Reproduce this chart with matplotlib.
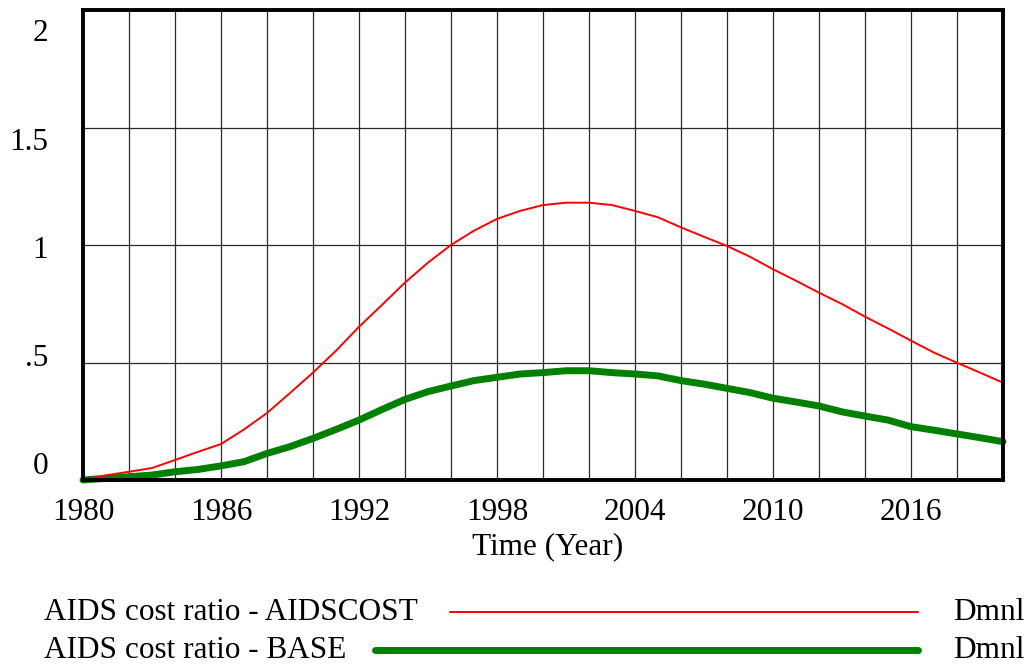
import matplotlib
matplotlib.use("Agg")
import matplotlib.pyplot as plt
from matplotlib.lines import Line2D
from matplotlib.transforms import ScaledTranslation

plt.rcParams['font.family'] = ['Liberation Serif', 'DejaVu Serif']

years = list(range(1980, 2021))
aidscost = [0.0, 0.02, 0.035, 0.051, 0.085, 0.12, 0.153, 0.215, 0.285, 0.37,
            0.457, 0.55, 0.652, 0.745, 0.84, 0.925, 1.0, 1.061, 1.111, 1.145,
            1.17, 1.18, 1.18, 1.17, 1.145, 1.118, 1.075, 1.035, 0.996, 0.95,
            0.897, 0.848, 0.797, 0.749, 0.695, 0.645, 0.593, 0.542, 0.499, 0.457,
            0.414]
base = [0.0, 0.007, 0.014, 0.021, 0.035, 0.045, 0.06, 0.078, 0.113, 0.142,
        0.177, 0.215, 0.255, 0.30, 0.343, 0.376, 0.40, 0.423, 0.437, 0.451,
        0.457, 0.465, 0.465, 0.457, 0.451, 0.443, 0.423, 0.408, 0.39, 0.372,
        0.348, 0.332, 0.315, 0.29, 0.272, 0.255, 0.227, 0.212, 0.196, 0.18,
        0.163]
x_label_years = [1980, 1986, 1992, 1998, 2004, 2010, 2016]
y_ticks = [0, 0.5, 1, 1.5, 2]
y_tick_labels = ['0', '.5', '1', '1.5', '2']
series_names = ['AIDS cost ratio - AIDSCOST', 'AIDS cost ratio - BASE']
units = 'Dmnl'
x_title = 'Time (Year)'

W, H = 1028, 668
fig = plt.figure(figsize=(W / 100, H / 100), dpi=100)
ax = fig.add_axes([83 / W, (H - 480) / H, 920 / W, 470 / H])

FS = 22.5
red = '#ff0000'
green = '#008000'

ax.plot(years, aidscost, color=red, lw=1.4, zorder=3, clip_on=False)
ax.plot(years, base, color=green, lw=5.0, zorder=2, clip_on=False,
        solid_capstyle='round')

ax.set_xlim(1980, 2020)
ax.set_ylim(0, 2)

# gridlines every 2 years; labels every 6 years
grid_years = list(range(1980, 2021, 2))
ax.set_xticks(grid_years)
ax.set_xticklabels([str(y) if y in x_label_years else '' for y in grid_years],
                   fontsize=FS)
ax.set_yticks(y_ticks)
ax.set_yticklabels(y_tick_labels, fontsize=FS)
ax.tick_params(length=0)
ax.tick_params(axis='x', pad=13)
ax.tick_params(axis='y', pad=25)
ax.grid(True, color='#2a2a2a', lw=0.9, zorder=1)

# vertical label offsets (Vensim-style squeezed labels)
offsets_px = {'2': -20, '1.5': -11, '1': -1.5, '.5': 7, '0': 17}
for lab in ax.get_yticklabels():
    dy = offsets_px.get(lab.get_text(), 0)
    lab.set_transform(lab.get_transform() + ScaledTranslation(0, dy / 100, fig.dpi_scale_trans))

for sp in ax.spines.values():
    sp.set_linewidth(2.8)
    sp.set_color('black')
    sp.set_zorder(5)

fig.text(548 / W, 1 - 547 / H, x_title, fontsize=FS, ha='center', va='center')

# legend rows
rows = [(612, 450, red, 1.4), (650, 375, green, 5.0)]
for name, (yc, x0, col, lw) in zip(series_names, rows):
    yf = 1 - yc / H
    fig.text(44 / W, yf, name, fontsize=FS, ha='left', va='center')
    fig.add_artist(Line2D([x0 / W, 918 / W], [yf, yf], color=col, lw=lw,
                          solid_capstyle='round', transform=fig.transFigure))
    fig.text(953 / W, yf, units, fontsize=FS, ha='left', va='center')

fig.savefig('out.png', dpi=100)
